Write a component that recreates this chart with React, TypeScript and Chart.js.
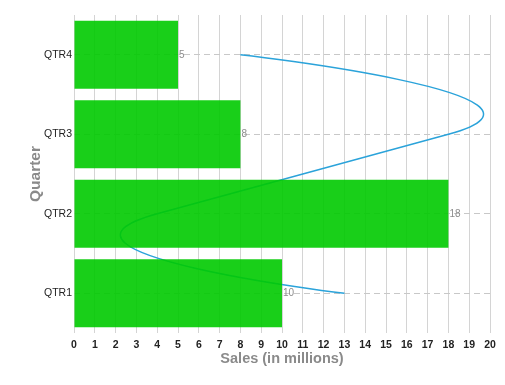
import React, { useEffect, useRef } from 'react';
import { Chart, registerables } from 'chart.js';

Chart.register(...registerables);

// ---- data ----
const quarters = ['QTR1', 'QTR2', 'QTR3', 'QTR4'];
const barSales = [10, 18, 8, 5];
const lineSales = [13, 4, 18, 8];
const xMin = 0;
const xMax = 20;
const xStep = 1;
const xTitle = 'Sales (in millions)';
const yTitle = 'Quarter';

const FONT = '"Liberation Sans", Arial, sans-serif';

// Smooth curve: each inner point takes its tangent from the longer neighbouring chord.
const chordSpline = {
  id: 'chordSpline',
  beforeDatasetDraw(chart: any, args: any) {
    const meta = args.meta;
    if (meta.type !== 'line') return;
    meta.dataset.updateControlPoints(chart.chartArea, meta.iScale.axis);
    const pts = meta.data;
    const last = pts.length - 1;
    pts.forEach((c: any, i: number) => {
      if (i === 0 || i === last) {
        c.cp1x = c.x; c.cp1y = c.y; c.cp2x = c.x; c.cp2y = c.y;
        return;
      }
      const p = pts[i - 1];
      const n = pts[i + 1];
      const ax = c.x - p.x, ay = c.y - p.y;
      const bx = n.x - c.x, by = n.y - c.y;
      const useA = Math.hypot(ax, ay) > Math.hypot(bx, by);
      const vx = useA ? ax : bx;
      const vy = useA ? ay : by;
      c.cp1x = c.x - vx / 2; c.cp1y = c.y - vy / 2;
      c.cp2x = c.x + vx / 2; c.cp2y = c.y + vy / 2;
    });
  },
};

const barValueLabels = {
  id: 'barValueLabels',
  afterDatasetsDraw(chart: any) {
    const ctx = chart.ctx;
    chart.data.datasets.forEach((ds: any, di: number) => {
      const meta = chart.getDatasetMeta(di);
      if (meta.type !== 'bar') return;
      ctx.save();
      ctx.font = `10px ${FONT}`;
      ctx.fillStyle = '#8c8c8c';
      ctx.textAlign = 'left';
      ctx.textBaseline = 'middle';
      meta.data.forEach((el: any, i: number) => {
        ctx.fillText(String(ds.data[i]), el.x + 1, el.y);
      });
      ctx.restore();
    });
  },
};

export default function App() {
  const ref = useRef<HTMLCanvasElement>(null);

  useEffect(() => {
    if (!ref.current) return;
    const chart = new Chart(ref.current, {
      type: 'bar',
      data: {
        labels: quarters,
        datasets: [
          {
            type: 'bar',
            label: 'Sales',
            data: barSales,
            backgroundColor: 'rgba(0, 202, 0, 0.9)',
            borderWidth: 0,
            categoryPercentage: 0.857,
            barPercentage: 1,
            order: 0,
          },
          {
            type: 'line',
            label: 'Trend',
            data: lineSales,
            borderColor: '#2ba3da',
            borderWidth: 1.5,
            pointRadius: 0,
            pointHoverRadius: 0,
            tension: 0.4,
            fill: false,
            order: 1,
          },
        ],
      },
      options: {
        indexAxis: 'y',
        responsive: false,
        devicePixelRatio: 1,
        animation: false,
        events: [],
        layout: { padding: { left: 23, top: 15, right: 15, bottom: 13 } },
        plugins: {
          legend: { display: false },
          tooltip: { enabled: false },
          title: { display: false },
        },
        scales: {
          x: {
            type: 'linear',
            position: 'bottom',
            min: xMin,
            max: xMax,
            ticks: {
              stepSize: xStep,
              color: '#222',
              font: { family: FONT, size: 10.5, weight: 'bold' },
              padding: 6,
              maxRotation: 0,
              autoSkip: false,
            },
            grid: { color: '#d4d4d4', lineWidth: 1, drawTicks: false },
            border: { display: false },
            title: {
              display: true,
              text: xTitle,
              color: '#8a8a8a',
              font: { family: FONT, size: 14.5, weight: 'bold' },
              padding: { top: 2, bottom: 4 },
            },
            afterFit: (s: any) => { s.height = 39; },
          },
          y: {
            type: 'category',
            reverse: true,
            offset: true,
            ticks: {
              color: '#222',
              font: { family: FONT, size: 10.5 },
              padding: 2,
            },
            grid: {
              offset: false,
              color: '#c8c8c8',
              lineWidth: 1,
              drawTicks: false,
            },
            border: { display: false, dash: [6, 4] },
            title: {
              display: true,
              text: yTitle,
              color: '#8a8a8a',
              font: { family: FONT, size: 15.5, weight: 'bold' },
              padding: { top: 3, bottom: 4 },
            },
            afterFit: (s: any) => { s.width = 51; },
          },
        },
      },
      plugins: [chordSpline, barValueLabels],
    } as any);
    return () => chart.destroy();
  }, []);

  return (
    <div style={{ position: 'fixed', left: 0, top: 0, width: 505, height: 385, background: '#fff' }}>
      <canvas ref={ref} width={505} height={385} style={{ display: 'block' }} />
    </div>
  );
}
